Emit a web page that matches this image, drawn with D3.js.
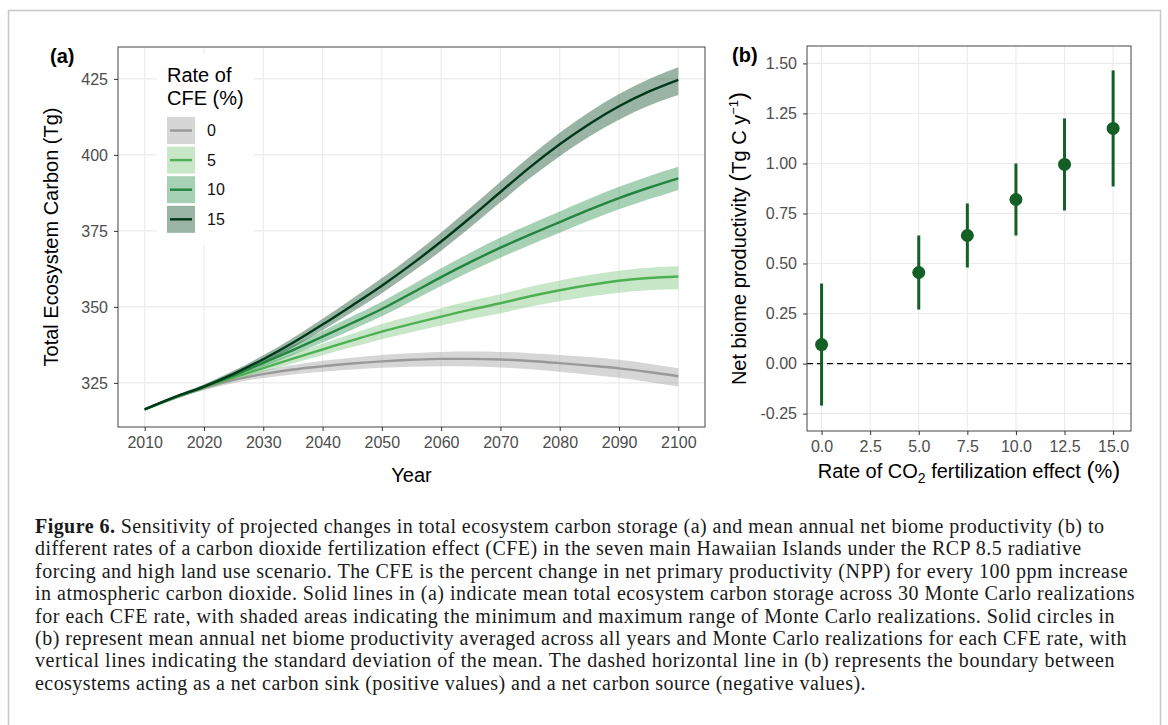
<!DOCTYPE html>
<html>
<head>
<meta charset="utf-8">
<script src="https://cdn.jsdelivr.net/npm/d3@7"></script>
<style>
  body { margin: 0; background: #fff; }
  svg { font-family: "Liberation Sans", Arial, sans-serif; }
  .tick text { fill: #4d4d4d; font-size: 16px; }
  .tick line { stroke: #333; }
  .domain { display: none; }
  .grid line { stroke: #ebebeb; stroke-width: 1.1; }
  .title { font-size: 20px; fill: #000; }
  .caption { font-family: "Liberation Serif", "Times New Roman", serif; font-size: 20px; letter-spacing: 0.45px; fill: #1a1a1a; }
</style>
</head>
<body>
<svg id="fig" width="1168" height="725"></svg>
<script>
// ---- panel (a): total ecosystem carbon (Tg), every 5 years
var years = [2010, 2015, 2020, 2025, 2030, 2035, 2040, 2045, 2050, 2055, 2060, 2065, 2070, 2075, 2080, 2085, 2090, 2095, 2100];
var cfeLevels = ["0", "5", "10", "15"];

var mean0 = [316.3, 320.0, 323.3, 326.0, 327.9, 329.4, 330.5, 331.4, 332.1, 332.6, 332.9, 332.9, 332.7, 332.2, 331.5, 330.7, 329.8, 328.6, 327.2];
var low0  = [316.0, 319.6, 322.6, 325.0, 326.6, 327.8, 328.7, 329.4, 330.0, 330.3, 330.5, 330.4, 330.1, 329.5, 328.7, 327.7, 326.7, 325.3, 323.8];
var high0 = [316.6, 320.4, 324.0, 327.0, 329.2, 330.9, 332.3, 333.3, 334.2, 334.8, 335.2, 335.3, 335.2, 334.8, 334.2, 333.5, 332.6, 331.3, 329.8];

var mean5 = [316.3, 320.1, 323.5, 326.8, 329.9, 333.0, 336.0, 339.0, 341.9, 344.4, 346.8, 349.1, 351.2, 353.5, 355.5, 357.2, 358.6, 359.5, 360.0];
var low5  = [316.0, 319.7, 322.8, 325.8, 328.6, 331.4, 334.1, 336.8, 339.4, 341.7, 343.9, 346.0, 347.9, 350.1, 351.9, 353.4, 354.7, 355.5, 355.8];
var high5 = [316.6, 320.5, 324.2, 327.8, 331.2, 334.6, 337.9, 341.2, 344.4, 347.0, 349.6, 352.0, 354.2, 356.6, 358.7, 360.5, 361.9, 362.9, 363.4];

var mean10 = [316.3, 320.2, 323.7, 327.5, 331.6, 335.8, 340.2, 344.7, 349.3, 354.5, 359.8, 364.8, 369.5, 373.8, 377.9, 382.0, 385.8, 389.2, 392.3];
var low10  = [316.0, 319.8, 323.0, 326.5, 330.3, 334.2, 338.3, 342.5, 346.9, 351.9, 356.9, 361.7, 366.2, 370.4, 374.4, 378.4, 382.1, 385.4, 388.5];
var high10 = [316.6, 320.6, 324.4, 328.5, 332.9, 337.4, 342.1, 346.9, 351.7, 357.1, 362.7, 367.9, 372.8, 377.2, 381.4, 385.6, 389.5, 393.0, 396.1];

var mean15 = [316.3, 320.3, 323.8, 328.0, 332.8, 338.2, 344.2, 350.5, 357.0, 364.0, 371.5, 379.5, 387.8, 396.0, 403.5, 410.2, 416.0, 420.8, 424.7];
var low15  = [316.0, 319.9, 323.1, 327.0, 331.5, 336.6, 342.3, 348.3, 354.5, 361.3, 368.5, 376.3, 384.4, 392.4, 399.6, 406.1, 411.6, 416.2, 419.7];
var high15 = [316.6, 320.7, 324.5, 329.0, 334.1, 339.8, 346.1, 352.7, 359.5, 366.7, 374.5, 382.7, 391.2, 399.6, 407.3, 414.1, 420.0, 424.9, 428.8];

var yearTicks = [2010, 2020, 2030, 2040, 2050, 2060, 2070, 2080, 2090, 2100];
var carbonTicks = [325, 350, 375, 400, 425];

// ---- panel (b): net biome productivity (Tg C / y)
var nbpRate = [0, 5, 7.5, 10, 12.5, 15];
var nbpMean = [0.095, 0.455, 0.64, 0.82, 0.995, 1.175];
var nbpLow  = [-0.21, 0.27, 0.48, 0.64, 0.765, 0.885];
var nbpHigh = [0.40, 0.64, 0.80, 1.00, 1.225, 1.465];
var rateTicks = [0, 2.5, 5, 7.5, 10, 12.5, 15];
var nbpTicks = [-0.25, 0, 0.25, 0.5, 0.75, 1.0, 1.25, 1.5];

var captionLines = [
  "Sensitivity of projected changes in total ecosystem carbon storage (a) and mean annual net biome productivity (b) to",
  "different rates of a carbon dioxide fertilization effect (CFE) in the seven main Hawaiian Islands under the RCP 8.5 radiative",
  "forcing and high land use scenario. The CFE is the percent change in net primary productivity (NPP) for every 100 ppm increase",
  "in atmospheric carbon dioxide. Solid lines in (a) indicate mean total ecosystem carbon storage across 30 Monte Carlo realizations",
  "for each CFE rate, with shaded areas indicating the minimum and maximum range of Monte Carlo realizations. Solid circles in",
  "(b) represent mean annual net biome productivity averaged across all years and Monte Carlo realizations for each CFE rate, with",
  "vertical lines indicating the standard deviation of the mean. The dashed horizontal line in (b) represents the boundary between",
  "ecosystems acting as a net carbon sink (positive values) and a net carbon source (negative values)."
];
// right edge of the justified caption lines (null = natural width)
var captionEnds = [null, null, 1128, 1135, 1115, 1127, 1115, null];

var lineColour = d3.scaleOrdinal().domain(cfeLevels).range(["#999999", "#4fb053", "#23843f", "#00391a"]);
var bandColour = d3.scaleOrdinal().domain(cfeLevels).range(["#999999", "#74c476", "#238b45", "#00441b"]);
var pointColour = "#135f26";

var series = [
  {key: "0",  mean: mean0,  lo: low0,  hi: high0},
  {key: "5",  mean: mean5,  lo: low5,  hi: high5},
  {key: "10", mean: mean10, lo: low10, hi: high10},
  {key: "15", mean: mean15, lo: low15, hi: high15}
].map(function(s) {
  s.values = years.map(function(y, i) { return {year: y, mean: s.mean[i], lo: s.lo[i], hi: s.hi[i]}; });
  return s;
});

var svg = d3.select("#fig");

// outer frame
svg.append("path")
    .attr("d", "M8.5,725 V10.5 H1160.5 V725")
    .attr("fill", "none")
    .attr("stroke", "#c8c8c8")
    .attr("stroke-width", 1.5);

// ================= panel (a)
var pa = {left: 118, right: 705, top: 47, bottom: 427};

var xA = d3.scaleLinear().domain([2005.5, 2104.5]).range([pa.left, pa.right]);
var yA = d3.scaleLinear().domain([310.5, 435.5]).range([pa.bottom, pa.top]);

var gridA = svg.append("g").attr("class", "grid");
gridA.selectAll(".gx").data(yearTicks).enter().append("line")
    .attr("x1", function(d) { return xA(d); }).attr("x2", function(d) { return xA(d); })
    .attr("y1", pa.top).attr("y2", pa.bottom);
gridA.selectAll(".gy").data(carbonTicks).enter().append("line")
    .attr("x1", pa.left).attr("x2", pa.right)
    .attr("y1", function(d) { return yA(d); }).attr("y2", function(d) { return yA(d); });

var area = d3.area()
    .x(function(d) { return xA(d.year); })
    .y0(function(d) { return yA(d.lo); })
    .y1(function(d) { return yA(d.hi); })
    .curve(d3.curveMonotoneX);

var line = d3.line()
    .x(function(d) { return xA(d.year); })
    .y(function(d) { return yA(d.mean); })
    .curve(d3.curveMonotoneX);

svg.append("g").selectAll("path").data(series).enter().append("path")
    .attr("d", function(s) { return area(s.values); })
    .attr("fill", function(s) { return bandColour(s.key); })
    .attr("fill-opacity", 0.4);

svg.append("g").selectAll("path").data(series).enter().append("path")
    .attr("d", function(s) { return line(s.values); })
    .attr("fill", "none")
    .attr("stroke", function(s) { return lineColour(s.key); })
    .attr("stroke-width", 2.4);

svg.append("rect")
    .attr("x", pa.left).attr("y", pa.top)
    .attr("width", pa.right - pa.left).attr("height", pa.bottom - pa.top)
    .attr("fill", "none").attr("stroke", "#444").attr("stroke-width", 1);

svg.append("g")
    .attr("transform", "translate(0," + pa.bottom + ")")
    .call(d3.axisBottom(xA).tickValues(yearTicks).tickSize(4).tickPadding(6).tickFormat(d3.format("d")));

svg.append("g")
    .attr("transform", "translate(" + pa.left + ",0)")
    .call(d3.axisLeft(yA).tickValues(carbonTicks).tickSize(4).tickPadding(6));

svg.append("text").attr("class", "title")
    .attr("x", (pa.left + pa.right) / 2).attr("y", 482)
    .attr("text-anchor", "middle").text("Year");

svg.append("text").attr("class", "title")
    .attr("transform", "translate(58," + (pa.top + pa.bottom) / 2 + ") rotate(-90)")
    .attr("text-anchor", "middle").text("Total Ecosystem Carbon (Tg)");

svg.append("text")
    .attr("x", 50).attr("y", 63)
    .style("font-size", "20px").style("font-weight", "bold")
    .text("(a)");

// legend
var legend = svg.append("g");
legend.append("rect")
    .attr("x", 157).attr("y", 53).attr("width", 97).attr("height", 192)
    .attr("fill", "#fff");
legend.append("text").attr("class", "title").attr("x", 167).attr("y", 82).text("Rate of");
legend.append("text").attr("class", "title").attr("x", 167).attr("y", 105).text("CFE (%)");

var key = legend.selectAll(".key").data(cfeLevels).enter().append("g")
    .attr("transform", function(d, i) { return "translate(167," + (117 + i * 29.6) + ")"; });
key.append("rect")
    .attr("width", 28).attr("height", 27)
    .attr("fill", function(d) { return bandColour(d); })
    .attr("fill-opacity", 0.4);
key.append("line")
    .attr("x1", 3).attr("x2", 25).attr("y1", 13.5).attr("y2", 13.5)
    .attr("stroke", function(d) { return lineColour(d); })
    .attr("stroke-width", 2.4);
key.append("text")
    .attr("x", 40).attr("y", 13.5).attr("dy", ".35em")
    .style("font-size", "16px").attr("fill", "#111")
    .text(function(d) { return d; });

// ================= panel (b)
var pb = {left: 807, right: 1131, top: 46, bottom: 431};

var xB = d3.scaleLinear().domain([-0.75, 15.92]).range([pb.left, pb.right]);
var yB = d3.scaleLinear().domain([-0.337, 1.587]).range([pb.bottom, pb.top]);

var gridB = svg.append("g").attr("class", "grid");
gridB.selectAll(".gx").data(rateTicks).enter().append("line")
    .attr("x1", function(d) { return xB(d); }).attr("x2", function(d) { return xB(d); })
    .attr("y1", pb.top).attr("y2", pb.bottom);
gridB.selectAll(".gy").data(nbpTicks).enter().append("line")
    .attr("x1", pb.left).attr("x2", pb.right)
    .attr("y1", function(d) { return yB(d); }).attr("y2", function(d) { return yB(d); });

svg.append("line")
    .attr("x1", pb.left).attr("x2", pb.right)
    .attr("y1", yB(0)).attr("y2", yB(0))
    .attr("stroke", "#000").attr("stroke-width", 1.2)
    .attr("stroke-dasharray", "6,4");

var nbp = nbpRate.map(function(r, i) { return {rate: r, mean: nbpMean[i], lo: nbpLow[i], hi: nbpHigh[i]}; });

svg.append("g").selectAll("line").data(nbp).enter().append("line")
    .attr("x1", function(d) { return xB(d.rate); }).attr("x2", function(d) { return xB(d.rate); })
    .attr("y1", function(d) { return yB(d.lo); }).attr("y2", function(d) { return yB(d.hi); })
    .attr("stroke", pointColour).attr("stroke-width", 3);

svg.append("g").selectAll("circle").data(nbp).enter().append("circle")
    .attr("cx", function(d) { return xB(d.rate); })
    .attr("cy", function(d) { return yB(d.mean); })
    .attr("r", 6.5)
    .attr("fill", pointColour);

svg.append("rect")
    .attr("x", pb.left).attr("y", pb.top)
    .attr("width", pb.right - pb.left).attr("height", pb.bottom - pb.top)
    .attr("fill", "none").attr("stroke", "#444").attr("stroke-width", 1);

svg.append("g")
    .attr("transform", "translate(0," + pb.bottom + ")")
    .call(d3.axisBottom(xB).tickValues(rateTicks).tickSize(4).tickPadding(6).tickFormat(d3.format(".1f")));

var fmt2 = d3.format(".2f");
svg.append("g")
    .attr("transform", "translate(" + pb.left + ",0)")
    .call(d3.axisLeft(yB).tickValues(nbpTicks).tickSize(4).tickPadding(6)
      .tickFormat(function(d) { return fmt2(d).replace("\u2212", "-"); }));

var xlabB = svg.append("text").attr("class", "title")
    .attr("x", (pb.left + pb.right) / 2).attr("y", 478)
    .attr("text-anchor", "middle");
xlabB.append("tspan").text("Rate of CO");
xlabB.append("tspan").attr("dy", 5).style("font-size", "14px").text("2");
xlabB.append("tspan").attr("dy", -5).text(" fertilization effect ");
xlabB.append("tspan").style("font-size", "24px").text("(");
xlabB.append("tspan").text("%");
xlabB.append("tspan").style("font-size", "24px").text(")");

var ylabB = svg.append("text").attr("class", "title")
    .attr("transform", "translate(746," + (pb.top + pb.bottom) / 2 + ") rotate(-90)")
    .attr("text-anchor", "middle");
ylabB.append("tspan").text("Net biome productivity ");
ylabB.append("tspan").style("font-size", "24px").text("(");
ylabB.append("tspan").text("Tg C y");
ylabB.append("tspan").attr("dy", -8).style("font-size", "13px").text("\u22121");
ylabB.append("tspan").attr("dy", 8).style("font-size", "24px").text(")");

svg.append("text")
    .attr("x", 732).attr("y", 62)
    .style("font-size", "20px").style("font-weight", "bold")
    .text("(b)");

// ================= caption
var captionLeft = 35;
var caption = svg.append("g").attr("class", "caption");
captionLines.forEach(function(t, i) {
  var tx = caption.append("text").attr("x", captionLeft).attr("y", 533 + i * 22.4);
  if (i === 0) {
    tx.append("tspan").style("font-weight", "bold").text("Figure 6.");
    tx.append("tspan").text(" " + t);
  } else {
    tx.text(t);
  }
  if (captionEnds[i]) {
    tx.attr("textLength", captionEnds[i] - captionLeft).attr("lengthAdjust", "spacing");
  }
});
</script>
</body>
</html>
